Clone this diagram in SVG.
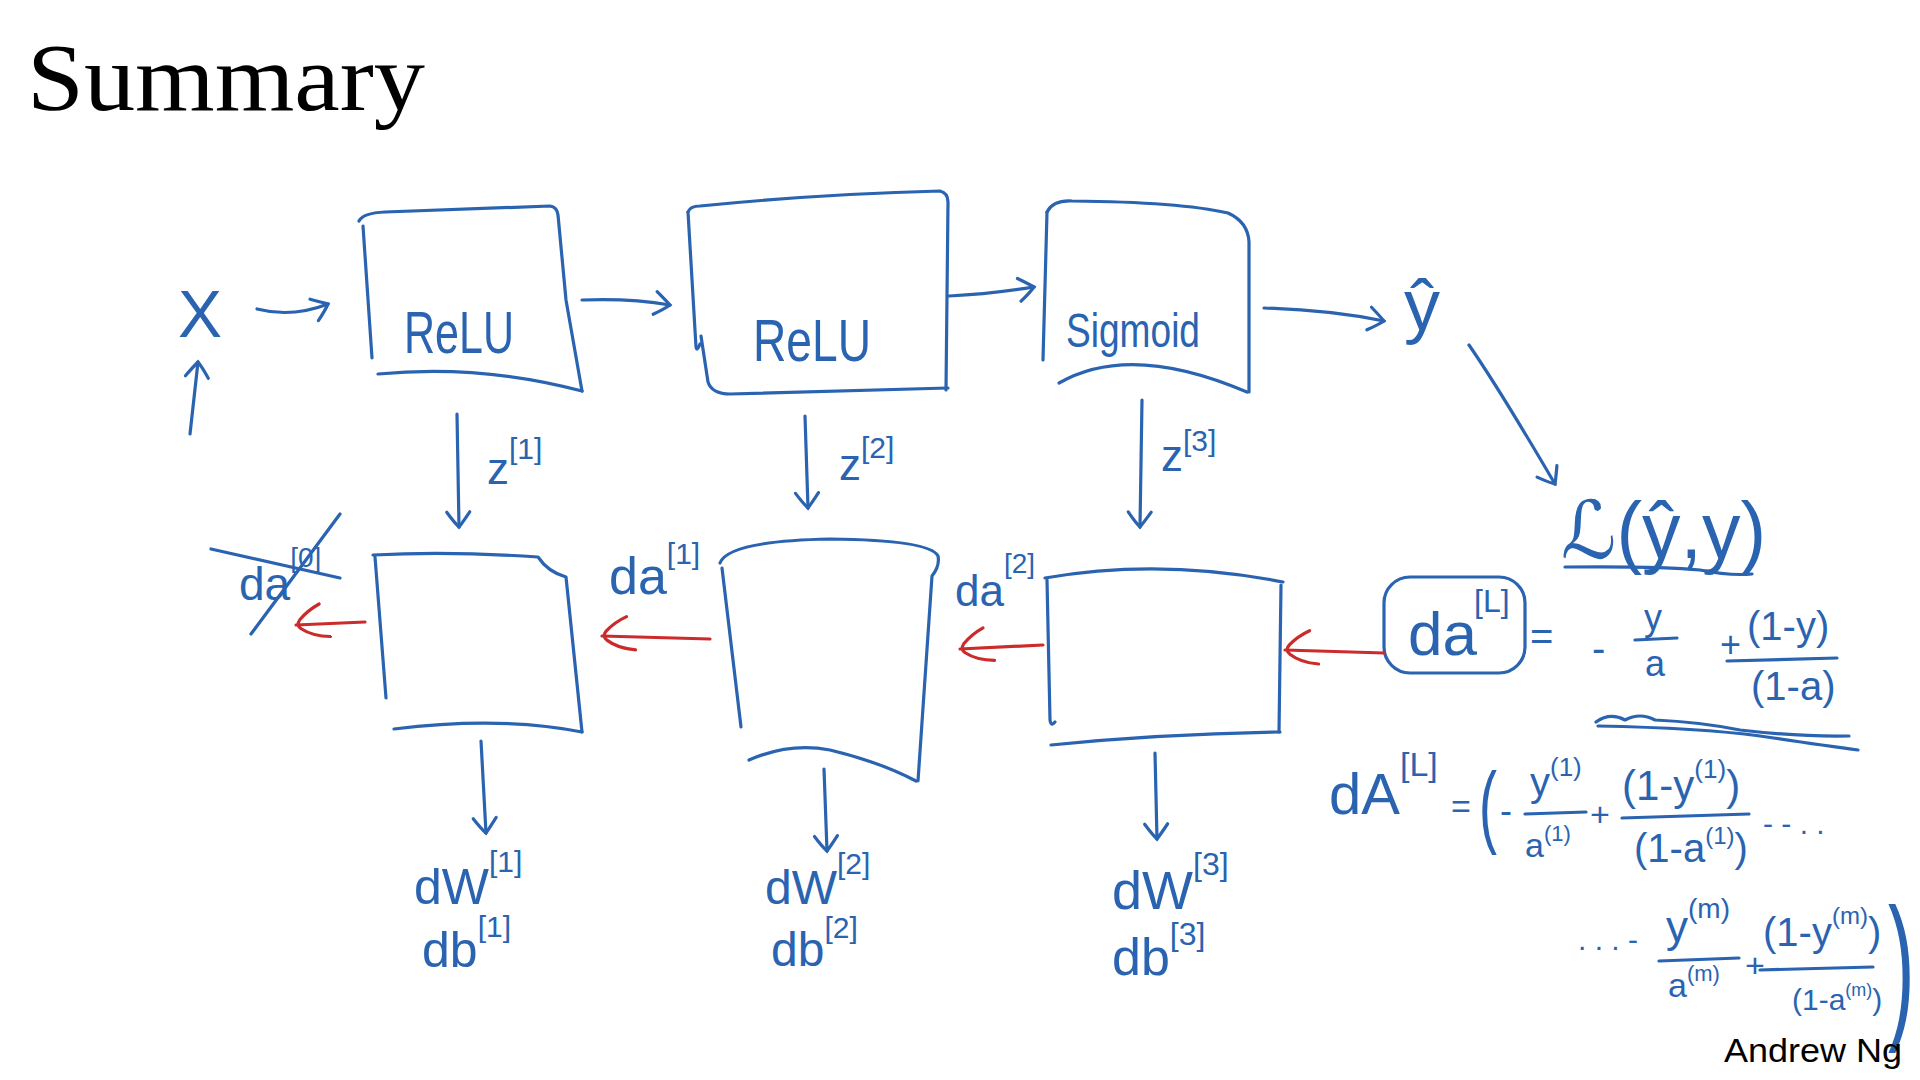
<svg xmlns="http://www.w3.org/2000/svg" width="1920" height="1080" viewBox="0 0 1920 1080">
<defs>
<style>
.ink{fill:none;stroke:#2a63b0;stroke-width:3.2;stroke-linecap:round;stroke-linejoin:round}
.red{fill:none;stroke:#cc2b2b;stroke-width:3.2;stroke-linecap:round;stroke-linejoin:round}
.t{font-family:"Liberation Sans","DejaVu Sans",Arial,sans-serif;fill:#2a63b0}
.title{font-family:"Liberation Serif","DejaVu Serif",serif;fill:#000}
.credit{font-family:"Liberation Sans",Arial,sans-serif;fill:#000}
</style>
<marker id="hb" markerUnits="userSpaceOnUse" markerWidth="40" markerHeight="40" viewBox="-20 -20 40 40" refX="0" refY="0" orient="auto">
<path d="M -15 -11 Q -5 -4 0 0 Q -5 5 -15 12" fill="none" stroke="#2a63b0" stroke-width="3.2" stroke-linecap="round"/>
</marker>
<marker id="hr" markerUnits="userSpaceOnUse" markerWidth="70" markerHeight="70" viewBox="-35 -35 70 70" refX="0" refY="0" orient="auto">
<path d="M -34 -13 Q -16 -12 -5 -4 Q 0 0 -4 5 Q -12 14 -24 20" fill="none" stroke="#cc2b2b" stroke-width="3.2" stroke-linecap="round"/>
</marker>
</defs>
<rect width="1920" height="1080" fill="#fff"/>

<text class="title" x="27" y="110" font-size="96" textLength="398" lengthAdjust="spacingAndGlyphs">Summary</text>

<g id="input-x"><text class="t" x="178" y="337" font-size="66">X</text></g>

<g id="fwd-relu-1">
<path class="ink" d="M 359 221 Q 363 213 385 212 L 550 206 Q 557 207 558 215 L 566 300 L 582 391"/>
<path class="ink" d="M 363 226 L 372 358"/>
<path class="ink" d="M 378 374 Q 480 364 582 391"/>
<text class="t" x="404" y="353" font-size="60" textLength="110" lengthAdjust="spacingAndGlyphs">ReLU</text>
</g>

<g id="fwd-relu-2">
<path class="ink" d="M 688 212 Q 690 206 700 206 Q 820 194 940 191 Q 948 193 948 202 L 946 390"/>
<path class="ink" d="M 688 212 L 696 347 Q 697 352 700 344"/>
<path class="ink" d="M 701 336 L 708 382 Q 712 394 730 394 L 948 388"/>
<text class="t" x="753" y="361" font-size="60" textLength="118" lengthAdjust="spacingAndGlyphs">ReLU</text>
</g>

<g id="fwd-sigmoid">
<path class="ink" d="M 1047 212 Q 1053 200 1072 201 Q 1180 202 1228 213 Q 1248 222 1249 242 L 1249 392"/>
<path class="ink" d="M 1047 212 L 1043 360"/>
<path class="ink" d="M 1059 383 Q 1130 342 1247 392"/>
<text class="t" x="1066" y="347" font-size="48" textLength="134" lengthAdjust="spacingAndGlyphs">Sigmoid</text>
</g>

<g id="yhat"><text class="t" x="1404" y="330" font-size="72">ŷ</text></g>

<g id="loss">
<text class="t" x="1561" y="558" font-size="80" textLength="205" lengthAdjust="spacingAndGlyphs">ℒ(ŷ,y)</text>
<path class="ink" d="M 1565 567 Q 1660 566 1700 570 Q 1730 576 1752 574"/>
</g>

<g id="bwd-1">
<path class="ink" d="M 373 555 Q 450 551 538 557 Q 548 572 566 577 L 582 732"/>
<path class="ink" d="M 375 557 L 386 698"/>
<path class="ink" d="M 394 729 Q 500 716 582 732"/>
</g>

<g id="bwd-2">
<path class="ink" d="M 720 563 Q 728 541 830 539 Q 930 540 938 556 Q 940 566 932 576 L 918 781"/>
<path class="ink" d="M 722 568 L 741 727"/>
<path class="ink" d="M 749 760 Q 790 742 830 750 Q 880 762 916 781"/>
</g>

<g id="bwd-3">
<path class="ink" d="M 1045 578 Q 1160 558 1283 582"/>
<path class="ink" d="M 1281 585 L 1279 732"/>
<path class="ink" d="M 1047 580 L 1050 720 Q 1051 727 1055 722"/>
<path class="ink" d="M 1051 745 Q 1160 734 1280 732"/>
</g>

<g id="daL">
<rect class="ink" x="1384" y="577" width="141" height="96" rx="26"/>
<text class="t" x="1408" y="655" font-size="62">da</text>
<text class="t" x="1474" y="612" font-size="32">[L]</text>
</g>

<g id="connectors">
<path class="ink" d="M 257 309 Q 292 318 328 304" marker-end="url(#hb)"/>
<path class="ink" d="M 190 434 L 198 362" marker-end="url(#hb)"/>
<path class="ink" d="M 582 300 Q 630 298 670 305" marker-end="url(#hb)"/>
<path class="ink" d="M 949 296 Q 990 294 1034 287" marker-end="url(#hb)"/>
<path class="ink" d="M 1264 308 Q 1330 310 1384 321" marker-end="url(#hb)"/>
<path class="ink" d="M 1469 345 Q 1500 390 1555 484" marker-end="url(#hb)"/>
<path class="ink" d="M 457 414 L 459 527" marker-end="url(#hb)"/>
<path class="ink" d="M 805 416 L 808 508" marker-end="url(#hb)"/>
<path class="ink" d="M 1142 400 L 1140 527" marker-end="url(#hb)"/>
<path class="ink" d="M 481 741 L 486 833" marker-end="url(#hb)"/>
<path class="ink" d="M 824 769 L 827 851" marker-end="url(#hb)"/>
<path class="ink" d="M 1155 753 L 1157 839" marker-end="url(#hb)"/>
<path class="red" d="M 1384 653 L 1285 650" marker-end="url(#hr)"/>
<path class="red" d="M 1043 645 L 960 649" marker-end="url(#hr)"/>
<path class="red" d="M 710 639 L 602 636" marker-end="url(#hr)"/>
<path class="red" d="M 365 622 L 296 625" marker-end="url(#hr)"/>
</g>

<g id="labels">
<text class="t" x="487" y="484" font-size="44">z<tspan font-size="30" dy="-25">[1]</tspan></text>
<text class="t" x="839" y="480" font-size="44">z<tspan font-size="30" dy="-22">[2]</tspan></text>
<text class="t" x="1161" y="471" font-size="44">z<tspan font-size="30" dy="-20">[3]</tspan></text>

<text class="t" x="609" y="594" font-size="52">da<tspan font-size="30" dy="-30">[1]</tspan></text>
<text class="t" x="955" y="606" font-size="44">da<tspan font-size="28" dy="-33">[2]</tspan></text>
<text class="t" x="239" y="600" font-size="46">da<tspan font-size="28" dy="-33">[0]</tspan></text>
<path class="ink" d="M 211 549 L 340 578"/>
<path class="ink" d="M 251 634 L 340 514"/>

<text class="t" x="414" y="904" font-size="50">dW<tspan font-size="30" dy="-32">[1]</tspan></text>
<text class="t" x="422" y="967" font-size="50">db<tspan font-size="30" dy="-30">[1]</tspan></text>
<text class="t" x="765" y="904" font-size="48">dW<tspan font-size="30" dy="-30">[2]</tspan></text>
<text class="t" x="771" y="966" font-size="48">db<tspan font-size="30" dy="-28">[2]</tspan></text>
<text class="t" x="1112" y="909" font-size="54">dW<tspan font-size="32" dy="-34">[3]</tspan></text>
<text class="t" x="1112" y="975" font-size="52">db<tspan font-size="32" dy="-30">[3]</tspan></text>
</g>

<g id="eq-daL">
<text class="t" x="1530" y="650" font-size="40">=</text>
<text class="t" x="1592" y="662" font-size="40">-</text>
<text class="t" x="1644" y="630" font-size="36">y</text>
<path class="ink" d="M 1635 640 L 1677 638"/>
<text class="t" x="1645" y="676" font-size="36">a</text>
<text class="t" x="1720" y="657" font-size="36">+</text>
<text class="t" x="1747" y="640" font-size="40">(1-y)</text>
<path class="ink" d="M 1727 661 L 1837 658"/>
<text class="t" x="1751" y="700" font-size="40">(1-a)</text>
<path class="ink" d="M 1596 722 Q 1610 712 1625 720 Q 1640 712 1655 720 Q 1700 722 1740 730 Q 1800 737 1849 736"/>
<path class="ink" d="M 1598 726 Q 1700 728 1760 736 Q 1820 745 1858 750"/>
</g>

<g id="eq-dAL">
<text class="t" x="1329" y="814" font-size="58">dA<tspan font-size="34" dy="-38">[L]</tspan></text>
<text class="t" x="1451" y="818" font-size="34">=</text>
<text class="t" x="0" y="0" font-size="90" transform="translate(1479 836) scale(0.6 1)">(</text>
<text class="t" x="1500" y="823" font-size="36">-</text>
<text class="t" x="1530" y="796" font-size="40">y<tspan font-size="26" dy="-20">(1)</tspan></text>
<path class="ink" d="M 1525 814 L 1586 812"/>
<text class="t" x="1525" y="857" font-size="34">a<tspan font-size="22" dy="-16">(1)</tspan></text>
<text class="t" x="1590" y="826" font-size="34">+</text>
<text class="t" x="1622" y="800" font-size="42">(1-y<tspan font-size="26" dy="-22">(1)</tspan><tspan dy="22">)</tspan></text>
<path class="ink" d="M 1622 818 L 1749 814"/>
<text class="t" x="1634" y="862" font-size="40">(1-a<tspan font-size="24" dy="-18">(1)</tspan><tspan dy="18">)</tspan></text>
<text class="t" x="1763" y="834" font-size="30">- - . .</text>

<text class="t" x="1578" y="950" font-size="30">. . . -</text>
<text class="t" x="1666" y="942" font-size="44">y<tspan font-size="28" dy="-24">(m)</tspan></text>
<path class="ink" d="M 1659 961 L 1739 958"/>
<text class="t" x="1668" y="997" font-size="34">a<tspan font-size="22" dy="-16">(m)</tspan></text>
<text class="t" x="1745" y="977" font-size="34">+</text>
<text class="t" x="1763" y="946" font-size="40">(1-y<tspan font-size="24" dy="-22">(m)</tspan><tspan dy="22">)</tspan></text>
<path class="ink" d="M 1760 970 L 1873 967"/>
<text class="t" x="1792" y="1010" font-size="30">(1-a<tspan font-size="18" dy="-14">(m)</tspan><tspan dy="14">)</tspan></text>
<text class="t" x="0" y="0" font-size="160" transform="translate(1888 1020) scale(0.5 1)">)</text>
</g>

<text class="credit" x="1724" y="1062" font-size="34" textLength="178" lengthAdjust="spacingAndGlyphs">Andrew Ng</text>
</svg>
